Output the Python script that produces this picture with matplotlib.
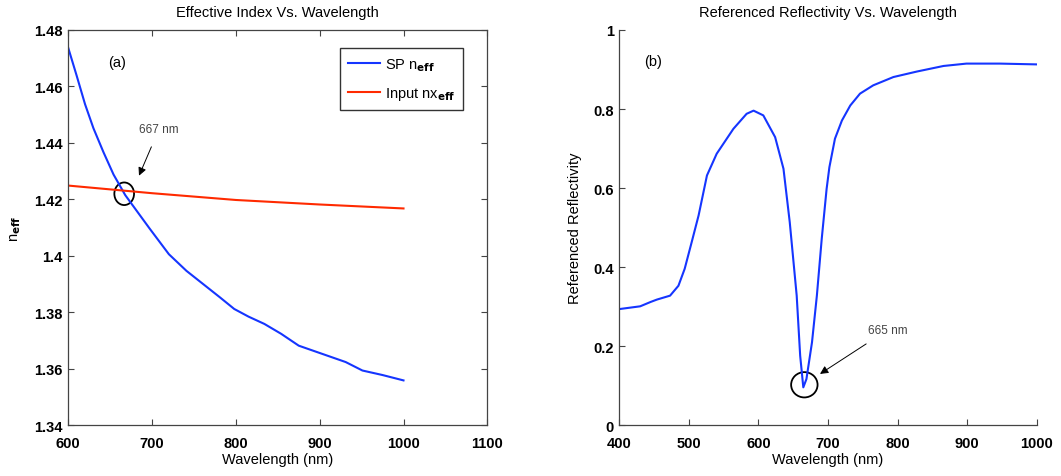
import matplotlib
matplotlib.use("Agg")
import matplotlib.pyplot as plt
from matplotlib.patches import Ellipse

plt.rcParams['font.family'] = ['Liberation Sans', 'DejaVu Sans']

# Panel (a): effective index
wl_sp = [600, 610, 620, 630, 642, 654, 668, 682, 697, 720, 741, 761, 781, 798, 815, 834, 854,
         875, 903, 931, 951, 975, 1000]
n_sp = [1.4736, 1.4638, 1.4537, 1.4452, 1.4367, 1.4288, 1.4215, 1.4158, 1.4097, 1.4006, 1.3947,
        1.3900, 1.3853, 1.3812, 1.3785, 1.3759, 1.3724, 1.3682, 1.3653, 1.3624, 1.3594, 1.3578,
        1.3559]
wl_in = [600, 700, 800, 900, 1000]
n_in = [1.4249, 1.4222, 1.4198, 1.4182, 1.4168]

# Panel (b): referenced reflectivity
wl_r = [400, 430, 445, 454, 473, 485, 494, 504, 514, 526, 540, 564, 583, 593, 607, 624, 636,
        645, 655, 660, 664.5, 669, 677, 684, 691, 698, 702, 710, 720, 732, 746, 765, 794, 828,
        866, 899, 947, 1000]
refl = [0.294, 0.301, 0.312, 0.318, 0.328, 0.353, 0.396, 0.463, 0.531, 0.632, 0.687, 0.750,
        0.788, 0.796, 0.784, 0.729, 0.649, 0.514, 0.328, 0.176, 0.096, 0.117, 0.210, 0.328,
        0.472, 0.598, 0.653, 0.725, 0.771, 0.809, 0.839, 0.860, 0.881, 0.895, 0.909, 0.915,
        0.915, 0.913]

W, H = 1061, 477
fig = plt.figure(figsize=(W/100, H/100), dpi=100)
ax1 = fig.add_axes([68.3/W, 1-426.3/H, (487.3-68.3)/W, (426.3-31)/H])
ax2 = fig.add_axes([619.3/W, 1-426.3/H, (1036.7-619.3)/W, (426.3-31)/H])

blue = '#1535ff'
red = '#ff2a00'
spine_c = '#444444'
fs = 10.5

ax1.plot(wl_sp, n_sp, color=blue, lw=1.5, label=r'SP n$_{\mathbf{eff}}$')
ax1.plot(wl_in, n_in, color=red, lw=1.5, label=r'Input nx$_{\mathbf{eff}}$')
ax1.set_xlim(600, 1100)
ax1.set_ylim(1.34, 1.48)
ax1.set_xticks([600, 700, 800, 900, 1000, 1100])
ax1.set_yticks([1.34, 1.36, 1.38, 1.4, 1.42, 1.44, 1.46, 1.48])
ax1.set_yticklabels(['1.34', '1.36', '1.38', '1.4', '1.42', '1.44', '1.46', '1.48'])
ax1.tick_params(axis='both', direction='in', top=True, right=True, labelsize=fs, length=4,
                color=spine_c)
ax1.tick_params(axis='x', pad=8)
ax1.tick_params(axis='y', pad=4)
ax1.set_xlabel('Wavelength (nm)', fontsize=fs, labelpad=1)
ax1.set_ylabel(r'n$_{\mathbf{eff}}$', fontsize=fs, labelpad=8)
ax1.set_title('Effective Index Vs. Wavelength', fontsize=fs, pad=10)
leg = ax1.legend(loc='upper right', fontsize=fs, fancybox=False, edgecolor='black',
                 handlelength=2.2, handletextpad=0.35, borderpad=0.55, labelspacing=0.85,
                 borderaxespad=0, bbox_to_anchor=(0.943, 0.954))
leg.get_frame().set_linewidth(1.0)
ax1.text(657.8, 1.4685, '(a)', fontsize=fs, ha='center', va='center')
ax1.add_patch(Ellipse((666.7, 1.4220), 23.5, 0.0080, fill=False, edgecolor='black', lw=1.3))
ax1.annotate('667 nm', xy=(684.4, 1.4284), xytext=(708.2, 1.4449), fontsize=8.5,
             color='#444444', ha='center', va='center',
             arrowprops=dict(arrowstyle='-|>', color='black', lw=0.7, shrinkA=7, shrinkB=0,
                             mutation_scale=12))

ax2.plot(wl_r, refl, color=blue, lw=1.5)
ax2.set_xlim(400, 1000)
ax2.set_ylim(0, 1)
ax2.set_xticks([400, 500, 600, 700, 800, 900, 1000])
ax2.set_yticks([0, 0.2, 0.4, 0.6, 0.8, 1])
ax2.set_yticklabels(['0', '0.2', '0.4', '0.6', '0.8', '1'])
ax2.tick_params(axis='both', direction='in', labelsize=fs, length=4, color=spine_c)
ax2.tick_params(axis='x', pad=8)
ax2.tick_params(axis='y', pad=4)
ax2.spines['top'].set_visible(False)
ax2.spines['right'].set_visible(False)
ax2.set_xlabel('Wavelength (nm)', fontsize=fs, labelpad=1)
ax2.set_ylabel('Referenced Reflectivity', fontsize=fs, labelpad=8)
ax2.set_title('Referenced Reflectivity Vs. Wavelength', fontsize=fs, pad=10)
ax2.text(448, 0.922, '(b)', fontsize=fs, ha='center', va='center')
ax2.add_patch(Ellipse((666, 0.1025), 38, 0.064, fill=False, edgecolor='black', lw=1.3))
ax2.annotate('665 nm', xy=(688.5, 0.130), xytext=(786, 0.2415), fontsize=8.5,
             color='#444444', ha='center', va='center',
             arrowprops=dict(arrowstyle='-|>', color='black', lw=0.7, shrinkA=7, shrinkB=0,
                             mutation_scale=12))

for ax in (ax1, ax2):
    for s in ax.spines.values():
        s.set_linewidth(0.9)
        s.set_color(spine_c)
    for lab in ax.get_xticklabels() + ax.get_yticklabels():
        lab.set_fontweight('bold')

fig.savefig('out.png', dpi=100)
